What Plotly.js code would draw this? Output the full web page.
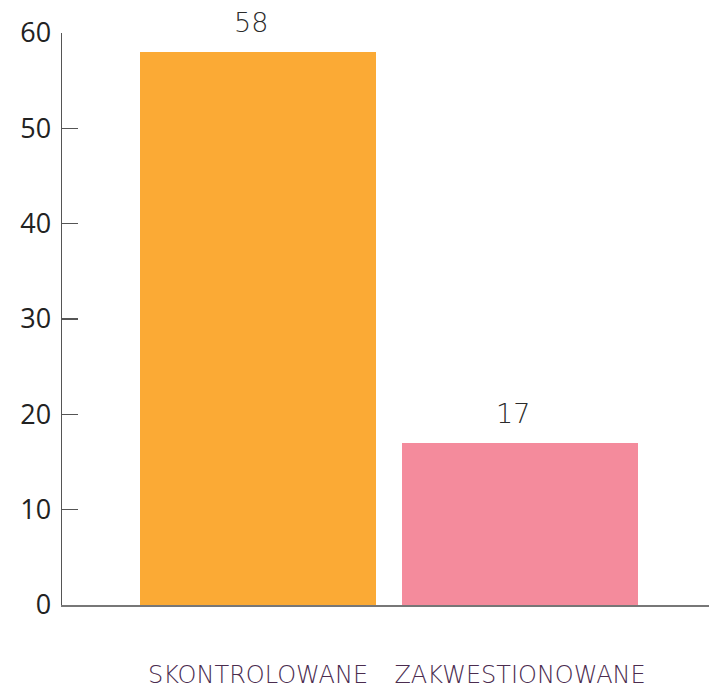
<!DOCTYPE html>
<html>
<head>
<meta charset="utf-8">
<script src="https://cdn.plot.ly/plotly-3.0.1.min.js"></script>
<style>html,body{margin:0;padding:0;background:#fff;}#chart{width:709px;height:689px;}</style>
</head>
<body>
<div id="chart"></div>
<script>
const categories = ["SKONTROLOWANE", "ZAKWESTIONOWANE"];
const values = [58, 17];
const barColors = ["#FBAA35", "#F48B9C"];
const yTicks = [0, 10, 20, 30, 40, 50, 60];

const trace = {
  type: "bar",
  x: [0, 1],
  y: values,
  width: 0.9,
  marker: {color: barColors},
  hoverinfo: "none"
};

const annotations = values.map((v, i) => ({
  x: i, y: v, xref: "x", yref: "y",
  text: String(v), showarrow: false,
  yanchor: "bottom", yshift: 12, xshift: -7,
  font: {family: "DejaVu Sans, sans-serif", size: 27, weight: 200, color: "#2b2b2b"}
}));

const layout = {
  width: 709, height: 689,
  margin: {l: 62, r: 0, t: 33, b: 84},
  paper_bgcolor: "#fff", plot_bgcolor: "#fff",
  showlegend: false,
  bargap: 0,
  xaxis: {
    range: [-0.748, 1.721],
    tickvals: [0, 1],
    ticktext: categories,
    showgrid: false, zeroline: false,
    showline: true, linecolor: "#777", linewidth: 2,
    ticks: "",
    ticklabelstandoff: 47,
    tickfont: {family: "DejaVu Sans, sans-serif", size: 24, weight: 200, color: "#4b2c4f"},
    fixedrange: true
  },
  yaxis: {
    range: [0, 60],
    tickvals: yTicks,
    ticktext: yTicks.map(String),
    showgrid: false, zeroline: false,
    showline: true, linecolor: "#555", linewidth: 1.5,
    ticks: "inside", ticklen: 16, tickwidth: 1.5, tickcolor: "#555",
    ticklabelstandoff: 4,
    tickfont: {family: "Open Sans, sans-serif", size: 27, color: "#222"},
    fixedrange: true
  },
  annotations: annotations
};

Plotly.newPlot("chart", [trace], layout, {displayModeBar: false, staticPlot: true});
</script>
</body>
</html>
